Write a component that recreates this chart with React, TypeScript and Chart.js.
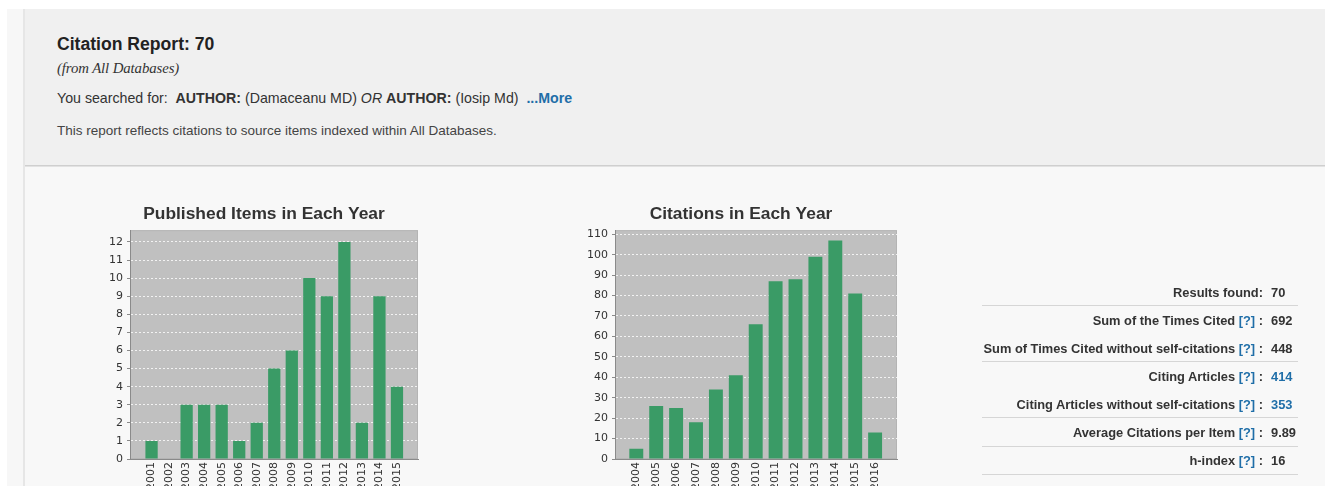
import React, { useEffect, useRef } from 'react';
import { Chart, registerables } from 'chart.js';

Chart.register(...registerables);

const publishedYears = ['2001', '2002', '2003', '2004', '2005', '2006', '2007', '2008', '2009', '2010', '2011', '2012', '2013', '2014', '2015'];
const publishedCounts = [1, 0, 3, 3, 3, 1, 2, 5, 6, 10, 9, 12, 2, 9, 4];

const citationYears = ['2004', '2005', '2006', '2007', '2008', '2009', '2010', '2011', '2012', '2013', '2014', '2015', '2016'];
const citationCounts = [5, 26, 25, 18, 34, 41, 66, 87, 88, 99, 107, 81, 13];

const statLabels = [
  'Results found',
  'Sum of the Times Cited',
  'Sum of Times Cited without self-citations',
  'Citing Articles',
  'Citing Articles without self-citations',
  'Average Citations per Item',
  'h-index',
];
const statValues = ['70', '692', '448', '414', '353', '9.89', '16'];
const statHasHelp = [false, true, true, true, true, true, true];
const statIsLink = [false, false, false, true, true, false, false];
const statHasRule = [true, false, true, false, true, true, true];

const SANS = '"Liberation Sans", Arial, sans-serif';
const TICK_FONT = '"DejaVu Sans", sans-serif';
const BLUE = '#1f6ea8';
const GREEN = '#3a9b66';

const plotBackground = {
  id: 'plotBackground',
  beforeDraw(chart: any) {
    const { ctx, chartArea: a } = chart;
    if (!a) return;
    ctx.save();
    ctx.fillStyle = '#c0c0c0';
    ctx.fillRect(a.left, a.top, a.right - a.left, a.bottom - a.top);
    ctx.strokeStyle = '#b4b4b4';
    ctx.lineWidth = 1;
    ctx.strokeRect(a.left + 0.5, a.top + 0.5, a.right - a.left - 1, a.bottom - a.top - 1);
    ctx.restore();
  },
};

type BarProps = {
  title: string;
  labels: string[];
  values: number[];
  yMax: number;
  xLowMargin: number;
  xHighMargin: number;
  yAxisWidth: number;
  rightGap: number;
  left: number;
  width: number;
};

function BarChart(p: BarProps) {
  const ref = useRef<HTMLCanvasElement | null>(null);
  useEffect(() => {
    if (!ref.current) return;
    const n = p.labels.length;
    const chart = new Chart(ref.current, {
      type: 'bar',
      data: {
        datasets: [
          {
            data: p.values.map((v, i) => ({ x: i, y: v })),
            backgroundColor: GREEN,
            borderWidth: 0,
            categoryPercentage: 1,
            barPercentage: 0.7,
          },
        ],
      },
      options: {
        animation: false,
        responsive: true,
        maintainAspectRatio: false,
        layout: { padding: 0 },
        plugins: {
          legend: { display: false },
          tooltip: { enabled: false },
          title: {
            display: true,
            text: p.title,
            color: '#333333',
            font: { family: SANS, size: 17.4, weight: 'bold' },
            padding: { top: 9, bottom: 5.3 },
          },
        },
        scales: {
          x: {
            type: 'linear',
            min: -p.xLowMargin,
            max: n - 1 + p.xHighMargin,
            offset: false,
            afterFit: (s: any) => {
              s.height = 36;
            },
            afterBuildTicks: (s: any) => {
              s.ticks = p.labels.map((_, i) => ({ value: i }));
            },
            ticks: {
              autoSkip: false,
              minRotation: 90,
              maxRotation: 90,
              padding: 3,
              color: '#333333',
              font: { family: TICK_FONT, size: 11 },
              callback: (v: any) => p.labels[v as number] ?? '',
            },
            grid: { display: false, drawTicks: false },
            border: { display: true, color: '#8a8a8a', width: 1 },
          },
          y: {
            type: 'linear',
            min: 0,
            max: p.yMax,
            afterFit: (s: any) => {
              s.width = p.yAxisWidth;
            },
            ticks: {
              stepSize: p.yMax > 50 ? 10 : 1,
              includeBounds: false,
              padding: 4,
              color: '#333333',
              font: { family: TICK_FONT, size: 11 },
            },
            grid: {
              color: '#f2f2f2',
              lineWidth: 1,
              drawTicks: true,
              tickLength: 3,
              tickColor: '#8a8a8a',
            },
            border: { display: true, color: '#8a8a8a', width: 1, dash: [2, 2] },
          },
          gap: {
            type: 'linear',
            position: 'right',
            display: true,
            min: 0,
            max: 1,
            afterFit: (s: any) => {
              s.width = p.rightGap;
            },
            ticks: { display: false },
            grid: { display: false, drawTicks: false },
            border: { display: false },
          },
        },
      },
      plugins: [plotBackground],
    } as any);
    return () => chart.destroy();
  }, []);
  return (
    <div style={{ position: 'absolute', left: p.left, top: 195, width: p.width, height: 300 }}>
      <canvas ref={ref} />
    </div>
  );
}

function abs(left: number, top: number, extra: React.CSSProperties = {}): React.CSSProperties {
  return { position: 'absolute', left, top, lineHeight: 1, whiteSpace: 'pre', margin: 0, ...extra };
}

export default function App() {
  return (
    <div
      style={{
        position: 'absolute',
        left: 0,
        top: 0,
        width: 1325,
        height: 486,
        overflow: 'hidden',
        background: '#ffffff',
        fontFamily: SANS,
      }}
    >
      <div style={{ position: 'absolute', left: 7, top: 9, width: 17, height: 477, background: '#f7f7f7' }} />
      <div style={{ position: 'absolute', left: 23, top: 9, width: 2, height: 477, background: '#e6e6e6' }} />
      <div
        style={{
          position: 'absolute',
          left: 25,
          top: 9,
          width: 1300,
          height: 156,
          background: '#f0f0f0',
          borderBottom: '1px solid #cfcfcf',
        }}
      />
      <div style={{ position: 'absolute', left: 25, top: 166, width: 1300, height: 1, background: '#e2e2e2' }} />
      <div style={{ position: 'absolute', left: 25, top: 167, width: 1300, height: 319, background: '#f8f8f8' }} />

      <div style={abs(57, 35.5, { fontSize: 17.6, fontWeight: 'bold', color: '#222222' })}>Citation Report: 70</div>
      <div
        style={abs(57, 60.5, {
          fontSize: 14.8,
          fontStyle: 'italic',
          fontFamily: '"Liberation Serif", "Times New Roman", serif',
          color: '#333333',
          letterSpacing: -0.1,
        })}
      >
        (from All Databases)
      </div>
      <div style={abs(57, 90.5, { fontSize: 14.2, color: '#333333' })}>
        {'You searched for:  '}
        <b>AUTHOR:</b>
        {' (Damaceanu MD) '}
        <i>OR</i>
        {' '}
        <b>AUTHOR:</b>
        {' (Iosip Md)  '}
        <b style={{ color: BLUE }}>...More</b>
      </div>
      <div style={abs(57, 124, { fontSize: 13.5, color: '#444444' })}>
        This report reflects citations to source items indexed within All Databases.
      </div>

      <BarChart
        title="Published Items in Each Year"
        labels={publishedYears}
        values={publishedCounts}
        yMax={12.65}
        xLowMargin={1.23}
        xHighMargin={1.2}
        yAxisWidth={30}
        rightGap={10}
        left={100}
        width={328}
      />
      <BarChart
        title="Citations in Each Year"
        labels={citationYears}
        values={citationCounts}
        yMax={112}
        xLowMargin={1.07}
        xHighMargin={1.1}
        yAxisWidth={31}
        rightGap={1}
        left={584}
        width={314}
      />

      {statLabels.map((label, i) => {
        const cy = 292.3 + i * 28.1;
        const fs = 12.85;
        const top = cy - fs * 0.55 + 1.5;
        return (
          <React.Fragment key={label}>
            <div
              style={abs(0, top, {
                width: 1263,
                textAlign: 'right',
                fontSize: fs,
                fontWeight: 'bold',
                color: '#333333',
              })}
            >
              {statHasHelp[i] ? label + ' ' : label}
              {statHasHelp[i] ? <span style={{ color: BLUE }}>[?]</span> : null}
              {statHasHelp[i] ? ' :' : ':'}
            </div>
            <div
              style={abs(1271, top, {
                fontSize: fs,
                fontWeight: 'bold',
                color: statIsLink[i] ? BLUE : '#333333',
              })}
            >
              {statValues[i]}
            </div>
            {statHasRule[i] ? (
              <div style={{ position: 'absolute', left: 982, top: cy + 12.7, width: 316, height: 1, background: '#d6d6d6' }} />
            ) : null}
          </React.Fragment>
        );
      })}
    </div>
  );
}
